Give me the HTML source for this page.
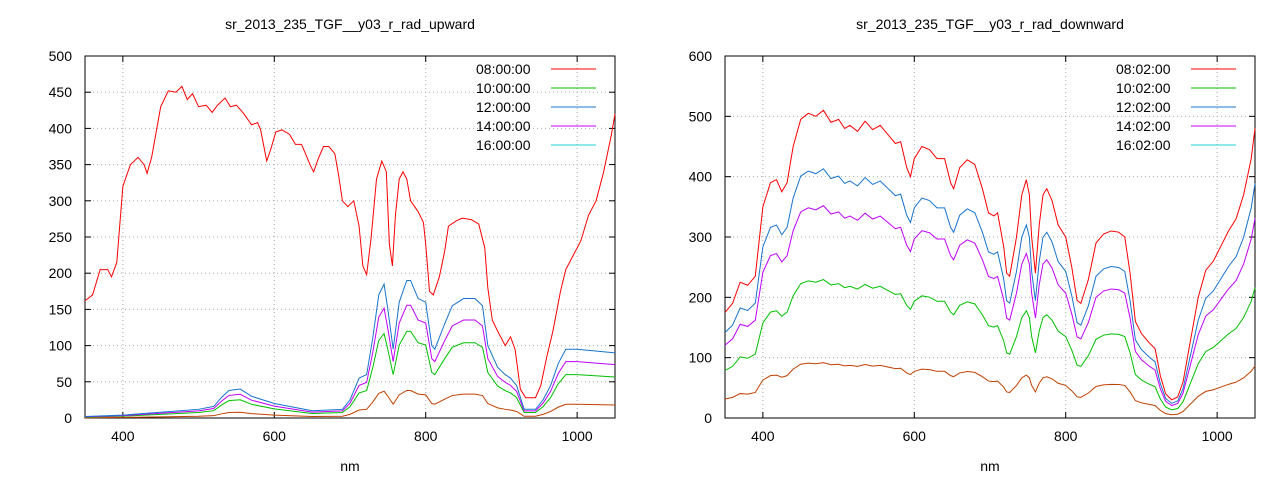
<!DOCTYPE html>
<html><head><meta charset="utf-8"><style>
body{margin:0;background:#fff;}
svg text{font-family:"Liberation Sans",sans-serif;font-size:14px;fill:#000;}
</style></head><body>
<svg id="s" width="1280" height="480" xmlns="http://www.w3.org/2000/svg"></svg>
<script>
const S=document.getElementById('s');let h='';
const L={x0:85,x1:615,y0:56,y1:418,ymax:500,ystep:50,title:'sr_2013_235_TGF__y03_r_rad_upward',leg:['08:00:00','10:00:00','12:00:00','14:00:00','16:00:00'],lx:476},
R={x0:725,x1:1255,y0:56,y1:418,ymax:600,ystep:100,title:'sr_2013_235_TGF__y03_r_rad_downward',leg:['08:02:00','10:02:00','12:02:00','14:02:00','16:02:00'],lx:1116};
const legc=['#ff0000','#00c000','#1874cd','#c000ff','#20d0d0'];
function P(p,a,b){return[p.x0+(a-350)/700*(p.x1-p.x0),p.y1-b/p.ymax*(p.y1-p.y0)];}
function axes(p){
 for(let v=400;v<=1000;v+=200){const x=P(p,v,0)[0];h+=`<line x1="${x}" y1="${p.y0}" x2="${x}" y2="${p.y1}" stroke="#aaa" stroke-dasharray="1,3"/><text x="${x}" y="${p.y1+23}" text-anchor="middle">${v}</text><line x1="${x}" y1="${p.y1}" x2="${x}" y2="${p.y1-6}" stroke="#000"/><line x1="${x}" y1="${p.y0}" x2="${x}" y2="${p.y0+6}" stroke="#000"/>`;}
 for(let v=0;v<=p.ymax;v+=p.ystep){const y=P(p,350,v)[1];h+=`<line x1="${p.x0}" y1="${y}" x2="${p.x1}" y2="${y}" stroke="#aaa" stroke-dasharray="1,3"/><text x="${p.x0-13}" y="${y+5}" text-anchor="end">${v}</text><line x1="${p.x0}" y1="${y}" x2="${p.x0+6}" y2="${y}" stroke="#000"/><line x1="${p.x1}" y1="${y}" x2="${p.x1-6}" y2="${y}" stroke="#000"/>`;}
 h+=`<rect x="${p.x0}" y="${p.y0}" width="${p.x1-p.x0}" height="${p.y1-p.y0}" fill="none" stroke="#000"/>`;
 h+=`<text x="${(p.x0+p.x1)/2}" y="29" text-anchor="middle">${p.title}</text><text x="${(p.x0+p.x1)/2}" y="471" text-anchor="middle">nm</text>`;
 p.leg.forEach((t,i)=>{const y=69+i*19;h+=`<text x="${p.lx}" y="${y+5}">${t}</text><line x1="${p.lx+75}" y1="${y}" x2="${p.lx+120}" y2="${y}" stroke="${legc[i]}"/>`;});
}
function line(p,pts,k,c){h+=`<polyline fill="none" stroke="${c}" stroke-width="1" points="${pts.map(q=>P(p,q[0],Math.max(0,q[1]*k)).join(',')).join(' ')}"/>`;}
function pr(s){const a=s.trim().split(/\s+/).map(Number),r=[];for(let i=0;i<a.length;i+=2)r.push([a[i],a[i+1]]);return r;}
const lred=pr(`350 162 360 170 370 205 380 205 385 195 392 215 400 320 410 350 420 360 428 350 432 338 438 360 450 430 460 452 470 450 478 458 485 440 492 448 500 430 510 432 518 422 525 432 535 442 542 430 550 432 560 420 570 405 578 408 582 398 590 355 595 370 602 395 610 398 620 392 628 378 636 378 640 368 648 348 652 340 658 358 665 375 672 375 680 365 685 335 690 300 697 292 705 300 712 265 717 210 722 198 728 250 735 330 742 355 748 340 752 240 756 210 760 280 765 330 770 340 775 330 780 300 790 285 797 270 800 240 805 175 810 170 818 195 825 230 830 265 840 272 848 276 860 274 870 268 878 235 882 180 888 135 895 120 905 100 912 112 918 95 925 40 932 28 945 28 952 45 960 85 968 120 978 175 985 205 995 225 1005 245 1015 280 1025 300 1035 340 1045 390 1050 420`);
const lblue=pr(`350 2 400 4 450 8 500 12 520 16 530 28 540 38 555 40 570 30 600 20 650 10 690 12 700 25 712 55 722 60 730 110 738 170 745 185 750 150 757 95 765 160 775 190 780 190 790 165 800 160 808 100 812 95 825 130 835 155 850 165 865 165 875 155 882 100 895 70 905 60 912 55 920 45 930 12 945 12 955 25 965 45 975 75 985 95 1000 95 1050 90`);
const rred=pr(`350 175 360 190 370 225 380 220 390 235 400 350 410 390 418 395 425 375 432 390 440 450 450 495 460 505 470 500 480 510 490 490 500 495 508 480 515 485 525 475 535 492 545 478 555 485 565 470 575 455 582 458 590 415 595 400 600 430 610 450 620 445 630 430 640 430 648 390 652 380 660 415 670 428 680 420 690 380 698 340 705 335 710 340 718 285 722 240 726 235 735 300 742 370 748 395 752 370 755 300 760 240 765 320 770 370 775 380 782 360 790 320 800 300 808 250 815 195 820 190 830 230 840 290 850 305 860 310 870 308 878 300 885 240 892 160 900 140 910 125 918 115 925 70 932 40 940 30 948 35 955 60 965 130 975 200 985 245 995 260 1005 285 1015 310 1025 330 1035 370 1045 430 1050 480`);
axes(L);axes(R);
line(L,lblue,0.2,'#c04000');line(L,lblue,0.63,'#00c000');line(L,lblue,0.82,'#c000ff');line(L,lblue,1,'#1874cd');line(L,lred,1,'#ff0000');
line(R,rred,0.18,'#c04000');line(R,rred,0.45,'#00c000');line(R,rred,0.69,'#c000ff');line(R,rred,0.81,'#1874cd');line(R,rred,1,'#ff0000');
S.innerHTML=h;
</script>
</body></html>
